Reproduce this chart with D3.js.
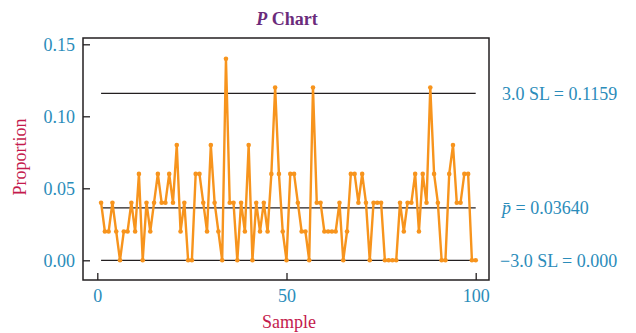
<!DOCTYPE html>
<html>
<head>
<meta charset="utf-8">
<script src="https://cdn.jsdelivr.net/npm/d3@7"></script>
<style>
  body { margin: 0; background: #fff; }
  text { font-family: "Liberation Serif", "DejaVu Serif", serif; }
</style>
</head>
<body>
<svg id="chart"></svg>
<script>
// proportion defective for each of the 100 samples (n = 50)
const proportions = [
  0.04, 0.02, 0.02, 0.04, 0.02, 0.00, 0.02, 0.02, 0.04, 0.02,
  0.06, 0.00, 0.04, 0.02, 0.04, 0.06, 0.04, 0.04, 0.06, 0.04,
  0.08, 0.02, 0.04, 0.00, 0.00, 0.06, 0.06, 0.04, 0.02, 0.08,
  0.04, 0.02, 0.00, 0.14, 0.04, 0.04, 0.00, 0.04, 0.02, 0.08,
  0.00, 0.04, 0.02, 0.04, 0.02, 0.06, 0.12, 0.06, 0.02, 0.00,
  0.06, 0.06, 0.04, 0.02, 0.02, 0.00, 0.12, 0.04, 0.04, 0.02,
  0.02, 0.02, 0.02, 0.04, 0.00, 0.02, 0.06, 0.06, 0.04, 0.06,
  0.04, 0.00, 0.04, 0.04, 0.04, 0.00, 0.00, 0.00, 0.00, 0.04,
  0.02, 0.04, 0.04, 0.06, 0.02, 0.06, 0.04, 0.12, 0.06, 0.04,
  0.00, 0.00, 0.06, 0.08, 0.04, 0.04, 0.06, 0.06, 0.00, 0.00
];

// control limits
const limitValues = [0.1159, 0.0364, 0.0];
const limitLabels = ["3.0 SL = 0.1159", "= 0.03640", "\u22123.0 SL = 0.000"];

const yTicks = [0, 0.05, 0.10, 0.15];
const xTicks = [0, 50, 100];

const width = 636, height = 333;
const frame = { left: 83, right: 489, top: 38, bottom: 280 };

const svg = d3.select("#chart")
    .attr("width", width)
    .attr("height", height);

const x = d3.scaleLinear().domain([0, 100]).range([97.3, 475.7]);
const y = d3.scaleLinear().domain([0, 0.15]).range([260.3, 44.3]);

// plot frame
svg.append("rect")
    .attr("x", frame.left)
    .attr("y", frame.top)
    .attr("width", frame.right - frame.left)
    .attr("height", frame.bottom - frame.top)
    .attr("fill", "none")
    .attr("stroke", "#231f20")
    .attr("stroke-width", 1.5);

// axes
const yAxis = svg.append("g")
    .attr("transform", `translate(${frame.left},0)`)
    .call(d3.axisLeft(y).tickValues(yTicks).tickFormat(d3.format(".2f")).tickSize(-7).tickPadding(8));

const xAxis = svg.append("g")
    .attr("transform", `translate(0,${frame.bottom})`)
    .call(d3.axisBottom(x).tickValues(xTicks).tickSize(-7).tickPadding(9));

[yAxis, xAxis].forEach(ax => {
    ax.select(".domain").remove();
    ax.selectAll(".tick line").attr("stroke", "#231f20").attr("stroke-width", 1.3);
    ax.selectAll(".tick text")
        .attr("fill", "#2b8cba")
        .style("font-size", "18px")
        .style("font-family", "'Liberation Serif', serif");
});

// control lines
svg.selectAll(".limit")
    .data(limitValues)
    .enter()
    .append("line")
    .attr("class", "limit")
    .attr("x1", x(1))
    .attr("x2", x(100))
    .attr("y1", d => y(d))
    .attr("y2", d => y(d))
    .attr("stroke", "#231f20")
    .attr("stroke-width", 1.2);

// data line + points
const pts = proportions.map((p, i) => ({ sample: i + 1, p }));

svg.append("path")
    .datum(pts)
    .attr("fill", "none")
    .attr("stroke", "#f7941d")
    .attr("stroke-width", 2.4)
    .attr("stroke-linejoin", "round")
    .attr("d", d3.line().x(d => x(d.sample)).y(d => y(d.p)));

svg.selectAll(".pt")
    .data(pts)
    .enter()
    .append("circle")
    .attr("class", "pt")
    .attr("cx", d => x(d.sample))
    .attr("cy", d => y(d.p))
    .attr("r", 2.3)
    .attr("fill", "#f7941d");

// limit labels on the right
const lab = svg.selectAll(".limlab")
    .data(limitValues)
    .enter()
    .append("text")
    .attr("class", "limlab")
    .attr("x", (d, i) => i === 2 ? 500 : 502)
    .attr("y", d => y(d))
    .attr("dy", "0.35em")
    .attr("fill", "#2b8cba")
    .style("font-size", "18px");

lab.each(function (d, i) {
    const t = d3.select(this);
    if (i === 1) {
        t.append("tspan").attr("font-style", "italic").text("p\u0304");
        t.append("tspan").text(" " + limitLabels[i]);
    } else {
        t.text(limitLabels[i]);
    }
});

// title
const title = svg.append("text")
    .attr("x", 287)
    .attr("y", 25)
    .attr("text-anchor", "middle")
    .attr("fill", "#6b2b7b")
    .style("font-size", "18px")
    .style("font-weight", "bold");
title.append("tspan").attr("font-style", "italic").text("P");
title.append("tspan").text(" Chart");

// axis titles
svg.append("text")
    .attr("x", 289)
    .attr("y", 328)
    .attr("text-anchor", "middle")
    .attr("fill", "#c41a4d")
    .style("font-size", "18px")
    .text("Sample");

svg.append("text")
    .attr("transform", "translate(26,157) rotate(-90)")
    .attr("text-anchor", "middle")
    .attr("fill", "#c41a4d")
    .style("font-size", "18px")
    .text("Proportion");
</script>
</body>
</html>
